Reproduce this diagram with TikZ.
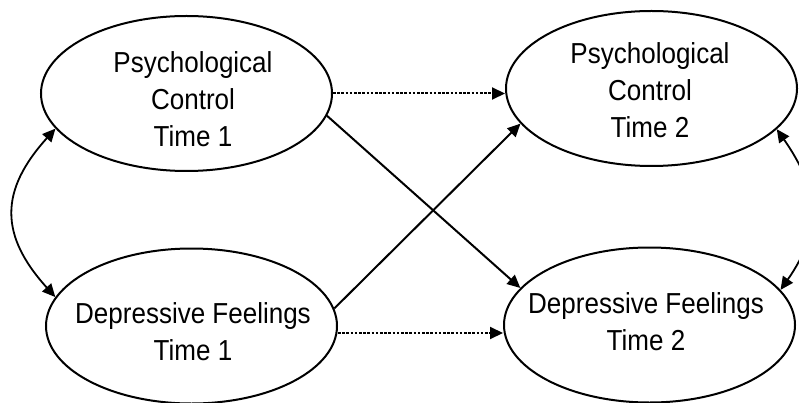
\documentclass[tikz,border=0pt]{standalone}
\usepackage{fontspec}
\setmainfont{Liberation Sans}[FakeStretch=0.9]
\usetikzlibrary{shapes.geometric,arrows.meta,calc}
\begin{document}
\begin{tikzpicture}[x=1pt,y=-1pt,
  latent/.style={ellipse, draw, line width=2pt, minimum width=291pt, minimum height=155pt, inner sep=0pt},
  txt/.style={align=center, inner sep=0pt, font=\fontsize{28.9}{37}\selectfont},
  path/.style={line width=2pt, -{Triangle[length=13pt,width=12pt]}},
  dottedpath/.style={line width=2pt, dash pattern=on 2.5pt off 1.7pt, -{Triangle[length=13pt,width=12pt]}},
  covar/.style={line width=1.8pt, {Triangle[length=13pt,width=12pt]}-{Triangle[length=13pt,width=12pt]}}]
\useasboundingbox (0,0) rectangle (799,403);
\node[latent] (tl) at (186.5,93.5) {};
\node[latent] (tr) at (651.5,88.5) {};
\node[latent] (bl) at (191.5,326) {};
\node[latent] (br) at (649.5,325) {};
\node[txt] (tlt) at (193,99.5) {Psychological\\Control\\Time 1};
\node[txt] (trt) at (650,90) {Psychological\\Control\\Time 2};
\node[txt] (blt) at (193,332) {Depressive Feelings\\Time 1};
\node[txt] (brt) at (646,322) {Depressive Feelings\\Time 2};
% stability paths
\draw[dottedpath] (tl.east) -- (tr.west |- tl.east);
\draw[dottedpath] ($(bl.east)+(0,7)$) -- ($(br.west)+(0,8)$);
% cross-lagged paths
\draw[path] (tl.-9) -- (br.164);
\draw[path] (bl.7) -- (tr.195);
% covariances
\draw[covar] (tl.195) .. controls +(-56,62) and +(-56,-62) .. (bl.168);
\draw[covar] (tr.342) .. controls +(42,60) and +(42,-60) .. (br.15);
\end{tikzpicture}
\end{document}
